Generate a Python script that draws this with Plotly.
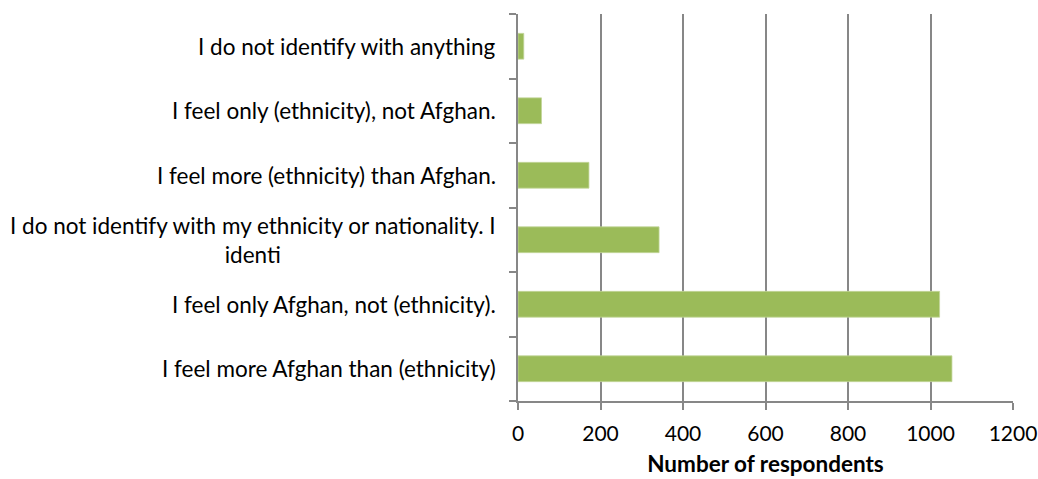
import plotly.graph_objects as go

categories = [
    "I feel more Afghan than (ethnicity)",
    "I feel only Afghan, not (ethnicity).",
    "I do not identify with my ethnicity or nationality. I<br>identi",
    "I feel more (ethnicity) than Afghan.",
    "I feel only (ethnicity), not Afghan.",
    "I do not identify with anything",
]
values = [1052, 1022, 342, 172, 57, 14]
x_ticks = [0, 200, 400, 600, 800, 1000, 1200]
x_title = "Number of respondents"

FONT = "Lato"
fig = go.Figure()
fig.add_trace(go.Bar(
    x=values, y=categories, orientation="h",
    marker=dict(color="#9BBB59", line=dict(color="#C3D69B", width=0.8)),
    width=0.4,
))

for c in categories:
    fig.add_annotation(
        x=0, xref="paper", y=c, yref="y", text=c,
        xanchor="right", yanchor="middle", align="center",
        xshift=-20, showarrow=False,
        font=dict(family=FONT, size=22.5, color="#000000"),
    )

fig.update_layout(
    width=1038, height=479,
    margin=dict(l=518, r=25, t=14, b=78),
    plot_bgcolor="white", paper_bgcolor="white",
    showlegend=False,
    font=dict(family=FONT, size=21, color="#000000"),
    xaxis=dict(
        range=[0, 1200], tickvals=x_ticks, ticktext=[str(v) for v in x_ticks],
        showgrid=True, gridcolor="#878787", gridwidth=1.5,
        showline=True, linecolor="#878787", linewidth=1.5,
        ticks="outside", ticklen=7, tickcolor="#878787", tickwidth=1.5,
        zeroline=False, automargin=False,
        title=dict(text="<b>" + x_title + "</b>", font=dict(family=FONT, size=22.5), standoff=12),
        tickfont=dict(family=FONT, size=21),
        ticklabelstandoff=6,
    ),
    yaxis=dict(
        categoryorder="array", categoryarray=categories,
        showticklabels=False, showgrid=False,
        showline=True, linecolor="#878787", linewidth=1.5,
        ticks="outside", ticklen=7, tickcolor="#878787", tickwidth=1.5,
        tickson="boundaries", zeroline=False, automargin=False,
    ),
)

fig.write_html("out.html")
